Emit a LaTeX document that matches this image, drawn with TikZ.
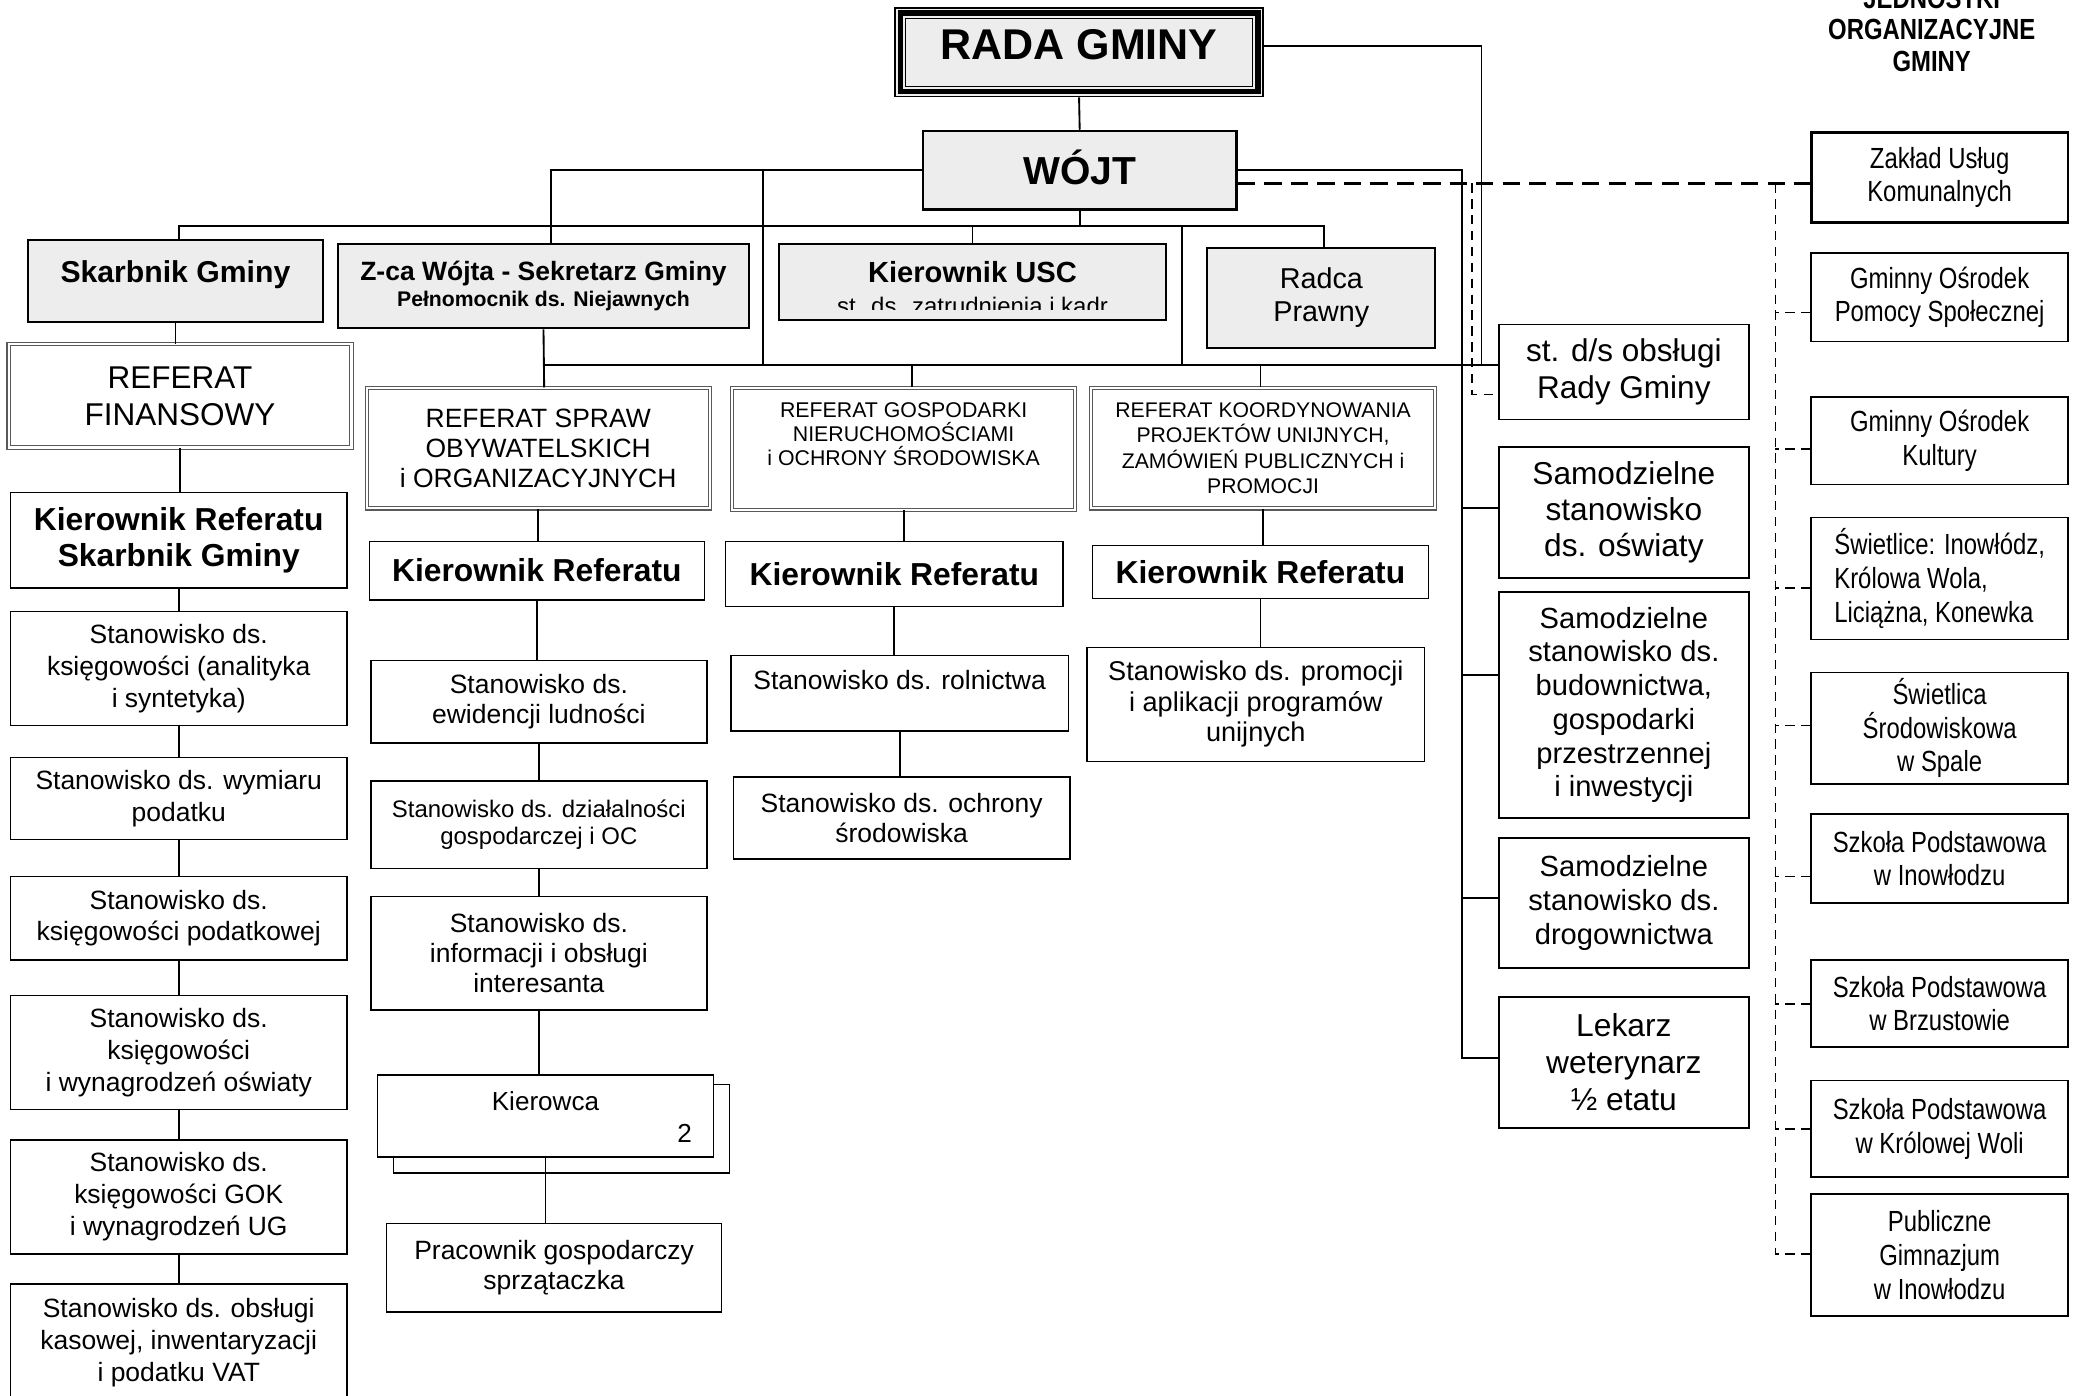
\documentclass[tikz,border=0pt]{standalone}
\usepackage{fontspec}
\setmainfont{Liberation Sans}
\newfontfamily\narrowfont[FakeStretch=0.82]{Liberation Sans}

\begin{document}
\begin{tikzpicture}[x=1pt,y=-1pt,
  box/.style={draw, line width=1.2pt, fill=white, inner sep=0pt, align=center},
  graybox/.style={box, fill=black!7, line width=1.5pt},
  refbox/.style={box, draw=black!65, double=white, double distance=1.6pt, line width=0.8pt},
  rbox/.style={box, font=\narrowfont\fontsize{22}{25.5}\selectfont},
  wh/.style 2 args={minimum width=#1pt, minimum height=#2pt},
  link/.style={line width=1.4pt},
  bigdash/.style={line width=1.8pt, dash pattern=on 13pt off 7pt},
  smalldash/.style={line width=1.4pt, dash pattern=on 7pt off 5pt},
  f20/.style={font=\fontsize{20}{24}\selectfont},
  kier/.style={font=\bfseries\fontsize{24}{27}\selectfont}
]
\useasboundingbox (0,0) rectangle (1568,1054);

% title
\node[font=\narrowfont\bfseries\fontsize{22}{24}\selectfont, align=center] (title) at (1459,22.5) {JEDNOSTKI\\ORGANIZACYJNE\\GMINY};

% Rada and Wojt
\node[graybox, wh={278}{67}, line width=1pt, font=\bfseries\fontsize{32.5}{36}\selectfont, text height=23.5pt, text depth=12pt] (rada) at (815,39.5) {RADA GMINY};
\draw[line width=4.2pt] ([shift={(4.5pt,4.5pt)}]rada.south west) rectangle ([shift={(-4.5pt,-4.5pt)}]rada.north east);
\draw[line width=0.8pt] ([shift={(8.3pt,8.3pt)}]rada.south west) rectangle ([shift={(-8.3pt,-8.3pt)}]rada.north east);
\node[graybox, wh={237}{59}, line width=2pt, font=\bfseries\fontsize{29.5}{32}\selectfont, text height=21.1pt, text depth=0pt] (wojt) at (815.5,128.5) {WÓJT};

% second row
\node[graybox, wh={223}{62}, font=\bfseries\fontsize{22.8}{26}\selectfont, text height=16.3pt, text depth=13pt] (skarbnik) at (132.5,212) {Skarbnik Gminy};
\node[graybox, wh={311}{64}, font=\bfseries\fontsize{16}{19}\selectfont] (zca) at (410.5,216) {{\fontsize{20}{19}\selectfont Z-ca Wójta - Sekretarz Gminy}\\Pełnomocnik ds. Niejawnych};
\node[graybox, wh={293}{58}, font=\bfseries\fontsize{22}{26}\selectfont, text height=16pt, text depth=16pt] (usc) at (734.5,213) {Kierownik USC};
\begin{scope}
  \clip ([yshift=9pt]usc.south west) rectangle (usc.north east);
  \node[anchor=base, inner sep=0pt, font=\fontsize{18.1}{20}\selectfont] (usckadr) at ([yshift=5pt]usc.south) {st. ds. zatrudnienia i kadr};
\end{scope}
\node[graybox, wh={172}{76}, font=\fontsize{21.7}{25}\selectfont] (radca) at (998,225) {Radca\\Prawny};
\node[box, wh={189}{72}, font=\fontsize{23.8}{28}\selectfont] (stobs) at (1226.5,281) {st. d/s obsługi\\Rady Gminy};

% referaty
\node[refbox, wh={259}{78}, font=\fontsize{23.8}{28}\selectfont] (reffin) at (136,299) {REFERAT\\FINANSOWY};
\node[refbox, wh={259}{91}, font=\fontsize{20}{22.5}\selectfont] (refspraw) at (406.5,338.5) {REFERAT SPRAW\\OBYWATELSKICH\\i ORGANIZACYJNYCH};
\node[refbox, wh={259}{92}] (refgosp) at (682.5,339) {};
\node[align=center, inner sep=0pt, font=\fontsize{16.1}{18}\selectfont] (refgosptxt) at (682.5,328) {REFERAT GOSPODARKI\\NIERUCHOMOŚCIAMI\\i OCHRONY ŚRODOWISKA};
\node[refbox, wh={260}{91}, font=\fontsize{16}{19}\selectfont] (refkoord) at (954,338.5) {REFERAT KOORDYNOWANIA\\PROJEKTÓW UNIJNYCH,\\ZAMÓWIEŃ PUBLICZNYCH i\\PROMOCJI};

% kierownicy referatow
\node[box, kier, wh={254}{72}] (kierfin) at (135,408) {Kierownik Referatu\\Skarbnik Gminy};
\node[box, kier, wh={253}{44}] (kierspraw) at (405.5,431) {Kierownik Referatu};
\node[box, kier, wh={255}{49}] (kiergosp) at (675.5,433.5) {Kierownik Referatu};
\node[box, kier, wh={254}{40}] (kierkoord) at (952,432) {Kierownik Referatu};

% referat finansowy
\node[box, f20, wh={254}{86}] (fin1) at (135,505) {Stanowisko ds.\\księgowości (analityka\\i syntetyka)};
\node[box, f20, wh={254}{62}] (fin2) at (135,603) {Stanowisko ds. wymiaru\\podatku};
\node[box, f20, wh={254}{63}] (fin3) at (135,693.5) {Stanowisko ds.\\księgowości podatkowej};
\node[box, f20, wh={254}{86}] (fin4) at (135,795) {Stanowisko ds.\\księgowości\\i wynagrodzeń oświaty};
\node[box, f20, wh={254}{86}] (fin5) at (135,904) {Stanowisko ds.\\księgowości GOK\\i wynagrodzeń UG};
\node[box, f20, wh={254}{88}] (fin6) at (135,1014) {Stanowisko ds. obsługi\\kasowej, inwentaryzacji\\i podatku VAT};

% referat spraw obywatelskich
\node[box, wh={254}{62}, font=\fontsize{20}{22}\selectfont] (ewid) at (407,530) {Stanowisko ds.\\ewidencji ludności};
\node[box, wh={254}{66}, font=\fontsize{18.1}{20}\selectfont] (dzial) at (407,623) {Stanowisko ds. działalności\\gospodarczej i OC};
\node[box, wh={254}{86}, font=\fontsize{20}{22.5}\selectfont] (info) at (407,720) {Stanowisko ds.\\informacji i obsługi\\interesanta};
\draw[line width=1pt] (297,819) rectangle (551,886);
\node[box, wh={254}{62}] (kierowca) at (412,843) {};
\node[font=\fontsize{19.7}{22}\selectfont, inner sep=0pt] (kierowcatxt) at (412,832) {Kierowca};
\node[font=\fontsize{19.7}{22}\selectfont, inner sep=0pt] (kierowcanr) at (517,856) {2};
\node[box, wh={253}{67}, font=\fontsize{20}{23}\selectfont] (pracownik) at (418.5,957.5) {Pracownik gospodarczy\\sprzątaczka};

% referat gospodarki
\node[box, wh={255}{57}] (rolnictwa) at (679.5,523.5) {};
\node[font=\fontsize{20}{23}\selectfont, inner sep=0pt] (rolnictwatxt) at (679.5,514) {Stanowisko ds. rolnictwa};
\node[box, wh={254}{62}, font=\fontsize{20}{23}\selectfont] (ochrony) at (681,618) {Stanowisko ds. ochrony\\środowiska};

% referat koordynowania
\node[box, wh={255}{86}, font=\fontsize{20.5}{23}\selectfont] (promocji) at (948.5,532) {Stanowisko ds. promocji\\i aplikacji programów\\unijnych};

% samodzielne stanowiska
\node[box, wh={189}{99}, font=\fontsize{23.9}{27}\selectfont] (samo1) at (1226.5,387) {Samodzielne\\stanowisko\\ds. oświaty};
\node[box, wh={189}{171}, font=\fontsize{22}{25.5}\selectfont] (samo2) at (1226.5,532.5) {Samodzielne\\stanowisko ds.\\budownictwa,\\gospodarki\\przestrzennej\\i inwestycji};
\node[box, wh={189}{98}, font=\fontsize{22}{26}\selectfont] (samo3) at (1226.5,682) {Samodzielne\\stanowisko ds.\\drogownictwa};
\node[box, wh={189}{99}, font=\fontsize{24}{28}\selectfont] (lekarz) at (1226.5,802.5) {Lekarz\\weterynarz\\½ etatu};

% jednostki organizacyjne
\node[rbox, wh={194}{68}, line width=2pt] (zuk) at (1465,134) {Zakład Usług\\Komunalnych};
\node[rbox, wh={194}{67}] (gops) at (1465,224.5) {Gminny Ośrodek\\Pomocy Społecznej};
\node[rbox, wh={194}{66}] (gok) at (1465,333) {Gminny Ośrodek\\Kultury};
\node[rbox, wh={194}{92}, align=left] (swietlice) at (1465,437) {Świetlice: Inowłódz,\\Królowa Wola,\\Liciążna, Konewka};
\node[rbox, wh={194}{84}] (swietlica) at (1465,550) {Świetlica\\Środowiskowa\\w Spale};
\node[rbox, wh={194}{67}] (sp1) at (1465,648.5) {Szkoła Podstawowa\\w Inowłodzu};
\node[rbox, wh={194}{66}] (sp2) at (1465,758) {Szkoła Podstawowa\\w Brzustowie};
\node[rbox, wh={194}{73}] (sp3) at (1465,852.5) {Szkoła Podstawowa\\w Królowej Woli};
\node[rbox, wh={194}{92}] (gimn) at (1465,948) {Publiczne\\Gimnazjum\\w Inowłodzu};

% connectors
\coordinate (h1) at (815.5,171);
\coordinate (h2) at (411,276);
\coordinate (w1) at (576,128.5);
\coordinate (w2) at (576,276);
\coordinate (h1b) at (893,171);
\coordinate (h2b) at (893,276);
\coordinate (r1) at (1119,276);
\coordinate (d1) at (1112,138.5);
\coordinate (d2) at (1341,138.5);

\draw[link] (rada.south) -- (wojt.north);
\draw[link] (wojt.west) -| ([xshift=5.5pt]zca.north);
\draw[link] (w1) -- (w2);
\draw[link] (wojt.south) -- (h1);
\draw[link] ([xshift=2.5pt]skarbnik.north) |- (h1) -| ([xshift=2pt]radca.north);
\draw[link] (usc.north) -- (usc.north |- h1);
\draw[link] (h1b) -- (h2b);
\draw[link] ([yshift=4.5pt]rada.east) -| (r1);

% main horizontal under second row
\draw[link] (zca.south) -- ([xshift=4.5pt]refspraw.north);
\draw[link] (h2) -- (h2 -| stobs.west);
\draw[link] ([xshift=6.5pt]refgosp.north) -- ([xshift=6.5pt]refgosp.north |- h2);
\draw[link] ([xshift=-2pt]refkoord.north) -- ([xshift=-2pt]refkoord.north |- h2);

% samodzielne stanowiska
\draw[link] (wojt.east) -| ([xshift=-27pt,yshift=3.5pt]lekarz.west) -- ([yshift=3.5pt]lekarz.west);
\foreach \n/\s in {samo1/3, samo2/22.5, samo3/4}
  \draw[link] ([yshift=\s pt]\n.west) -- ++(-27,0);

% columns
\foreach \a/\b in {skarbnik/reffin, reffin/kierfin, kierfin/fin1, fin1/fin2, fin2/fin3, fin3/fin4, fin4/fin5, fin5/fin6,
  refspraw/kierspraw, kierspraw/ewid, ewid/dzial, dzial/info, info/kierowca, kierowca/pracownik,
  refgosp/kiergosp, kiergosp/rolnictwa, rolnictwa/ochrony, refkoord/kierkoord, kierkoord/promocji}
  \draw[link] (\a.south) -- (\a.south |- \b.north);

% dashed links
\draw[bigdash] ([yshift=-10pt]wojt.east) -- ([yshift=-4.5pt]zuk.west);
\draw[smalldash] (d1) |- ([yshift=-17pt]stobs.west);
\draw[smalldash] (d2) |- ([yshift=1pt]gimn.west);
\foreach \n/\s in {gops/-11.5, gok/-6, swietlice/-7, swietlica/2, sp1/-13.5, sp2/0, sp3/0}
  \draw[smalldash] ([yshift=\s pt]\n.west) -- ++(-27,0);

\end{tikzpicture}
\end{document}
